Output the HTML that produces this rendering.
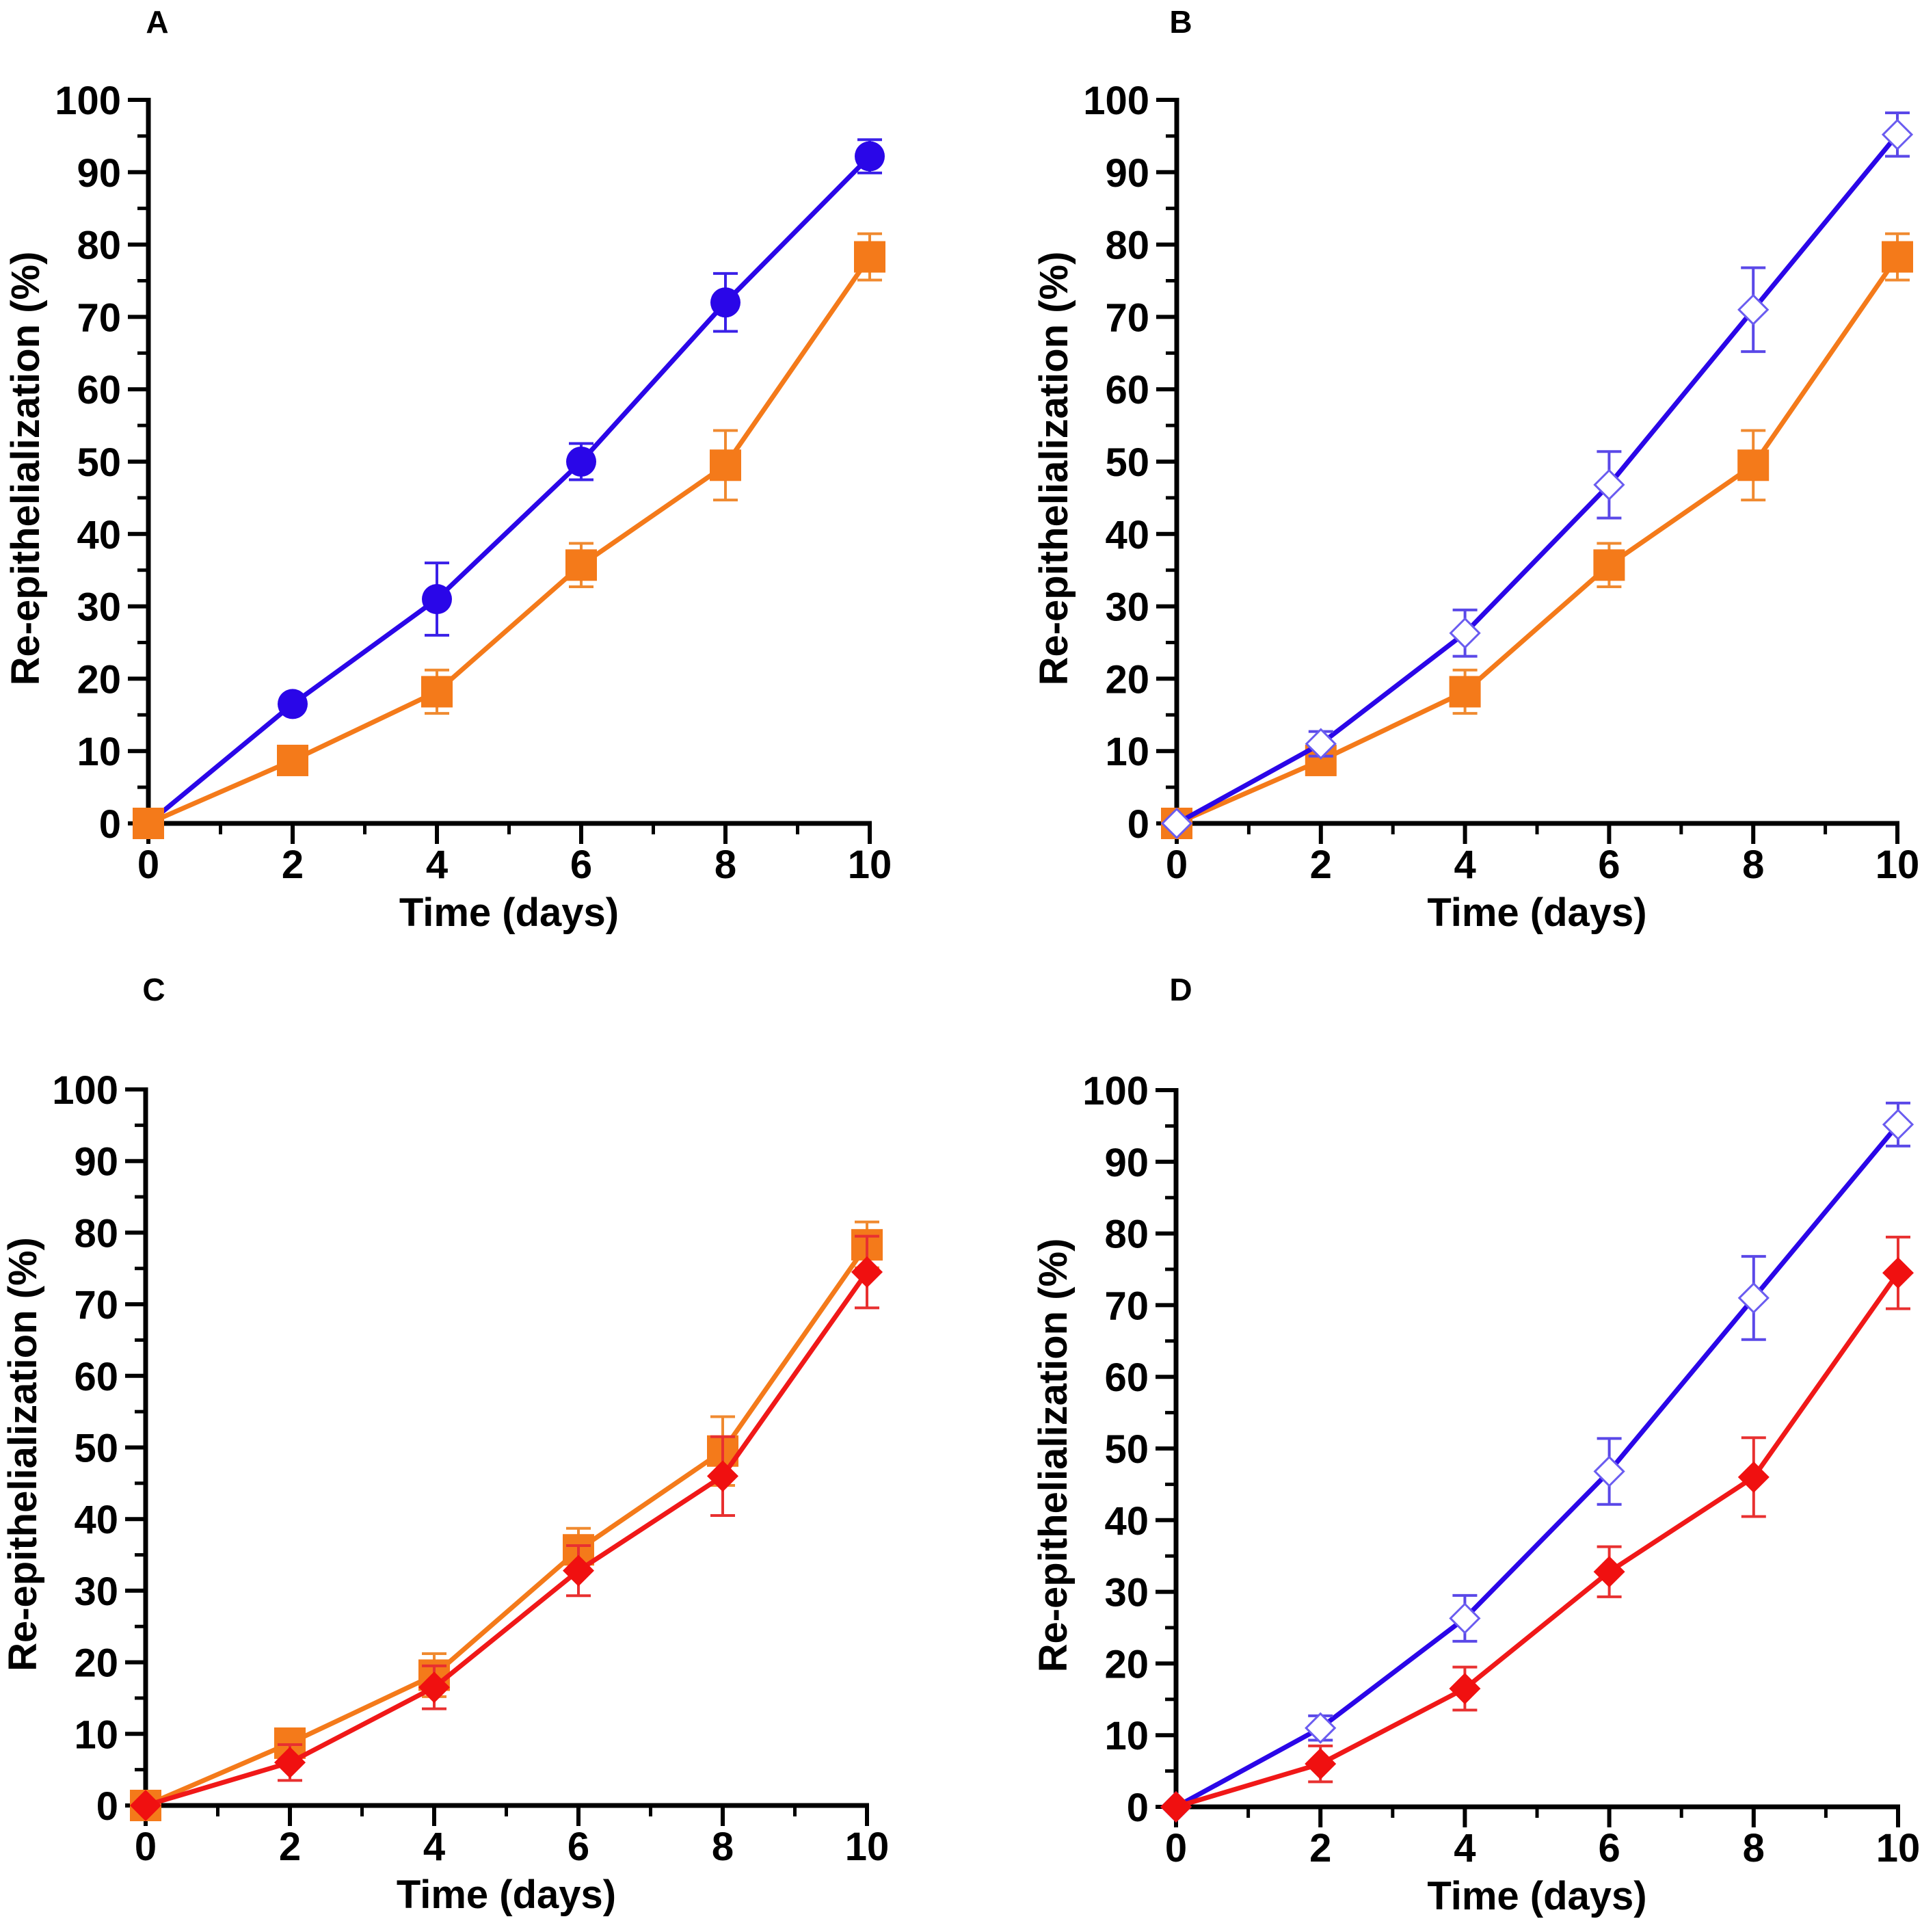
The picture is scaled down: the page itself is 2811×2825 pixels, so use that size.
<!DOCTYPE html>
<html><head><meta charset="utf-8">
<style>
html,body{margin:0;padding:0;background:#fff;}
svg{display:block;}
text{font-family:"Liberation Sans",Arial,sans-serif;font-weight:bold;fill:#000;}
</style></head>
<body>
<svg id="fig" width="2811" height="2825" viewBox="0 0 2811 2825" xmlns="http://www.w3.org/2000/svg"></svg>
<script>
const days = [0, 2, 4, 6, 8, 10];
const xTicks = [0, 2, 4, 6, 8, 10];
const yTicks = [0, 10, 20, 30, 40, 50, 60, 70, 80, 90, 100];
const blueCircleVals = [0, 16.5, 31, 50, 72, 92.2];
const blueCircleErr = [0, 1, 5, 2.5, 4, 2.3];
const orangeSquareVals = [0, 8.7, 18.2, 35.7, 49.5, 78.3];
const orangeSquareErr = [0, 1, 3, 3, 4.8, 3.2];
const openDiamondVals = [0, 11, 26.3, 46.8, 71, 95.2];
const openDiamondErr = [0, 1.7, 3.2, 4.6, 5.8, 3];
const redDiamondVals = [0, 6, 16.5, 32.8, 46, 74.5];
const redDiamondErr = [0, 2.5, 3, 3.5, 5.5, 5];

const NS = "http://www.w3.org/2000/svg";
const svg = document.getElementById('fig');
function mk(tag, attrs, parent) {
  const e = document.createElementNS(NS, tag);
  for (const k in attrs) e.setAttribute(k, attrs[k]);
  (parent || svg).appendChild(e);
  return e;
}

const panels = [
  {id:'a', letter:'A', lx:230, ly:48, x0:217, x1:1272, y0:1204, y1:146, series:['blue','orange']},
  {id:'b', letter:'B', lx:1727, ly:48, x0:1721, x1:2775, y0:1204, y1:146, series:['orange','open']},
  {id:'c', letter:'C', lx:225, ly:1463, x0:213, x1:1268, y0:2640, y1:1593, series:['orange','red']},
  {id:'d', letter:'D', lx:1727, ly:1463, x0:1720, x1:2776, y0:2642, y1:1594, series:['open','red']}
];

const seriesDef = {
  blue: {vals: blueCircleVals, err: blueCircleErr, line:'#2a06e8', errc:'#3a20e8', marker:'circle'},
  orange: {vals: orangeSquareVals, err: orangeSquareErr, line:'#f47a1a', errc:'#f08a30', marker:'square'},
  open: {vals: openDiamondVals, err: openDiamondErr, line:'#2a06e8', errc:'#5a48e8', marker:'open'},
  red: {vals: redDiamondVals, err: redDiamondErr, line:'#f01818', errc:'#e83030', marker:'diamond'}
};

panels.forEach(p => {
  const g = mk('g', {});
  
  
  const X = d => p.x0 + (p.x1 - p.x0) * d / 10;
  const Y = v => p.y0 - (p.y0 - p.y1) * v / 100;

  const lt = mk('text', {x:p.lx, y:p.ly, 'font-size':46, 'text-anchor':'middle'}, g);
  lt.textContent = p.letter;
  
  

  const ax = mk('g', {}, g);
  
  
  mk('line', {x1:p.x0, y1:p.y1 - 3, x2:p.x0, y2:p.y0 + 3, stroke:'#000', 'stroke-width':7}, ax);
  mk('line', {x1:p.x0 - 3, y1:p.y0, x2:p.x1 + 3, y2:p.y0, stroke:'#000', 'stroke-width':7}, ax);
  for (let v = 0; v <= 100; v += 5) {
    const major = v % 10 === 0;
    mk('line', {x1:p.x0, y1:Y(v), x2:p.x0 - (major ? 30 : 16), y2:Y(v), stroke:'#000', 'stroke-width':major ? 6 : 5}, ax);
  }
  for (let d = 0; d <= 10; d += 1) {
    const major = d % 2 === 0;
    mk('line', {x1:X(d), y1:p.y0, x2:X(d), y2:p.y0 + (major ? 30 : 16), stroke:'#000', 'stroke-width':major ? 6 : 5}, ax);
  }
  yTicks.forEach(v => {
    const t = mk('text', {x:p.x0 - 40, y:Y(v) + 21, 'font-size':58, 'text-anchor':'end'}, ax);
    t.textContent = v;
    
    
  });
  xTicks.forEach(d => {
    const t = mk('text', {x:X(d), y:p.y0 + 80, 'font-size':58, 'text-anchor':'middle'}, ax);
    t.textContent = d;
    
    
  });
  const xt = mk('text', {x:(p.x0 + p.x1) / 2, y:p.y0 + 150, 'font-size':58, 'text-anchor':'middle'}, g);
  xt.textContent = 'Time (days)';
  
  
  const yc = (p.y0 + p.y1) / 2 + 10;
  const yt = mk('text', {x:0, y:0, 'font-size':58, 'text-anchor':'middle', transform:`translate(${p.x0 - 160},${yc}) rotate(-90)`}, g);
  yt.textContent = 'Re-epithelialization (%)';
  
  

  p.series.forEach(key => {
    const s = seriesDef[key];
    const sg = mk('g', {}, g);
    
    
    const pts = days.map((d, i) => X(d) + ',' + Y(s.vals[i])).join(' ');
    const pl = mk('polyline', {points:pts, fill:'none', stroke:s.line, 'stroke-width':7, 'stroke-linejoin':'round'}, sg);
    
    
    days.forEach((d, i) => {
      const cx = X(d), cy = Y(s.vals[i]);
      if (s.err[i] > 0) {
        const top = Y(s.vals[i] + s.err[i]), bot = Y(s.vals[i] - s.err[i]);
        const eb = mk('path', {d:`M${cx},${top}V${bot}M${cx-18},${top}H${cx+18}M${cx-18},${bot}H${cx+18}`, stroke:s.errc, 'stroke-width':4, fill:'none'}, sg);
        
        
      }
      let m;
      if (s.marker === 'circle') m = mk('circle', {cx:cx, cy:cy, r:22, fill:'#2a06e8'}, sg);
      else if (s.marker === 'square') m = mk('rect', {x:cx - 23, y:cy - 23, width:46, height:46, fill:'#f47a1a'}, sg);
      else if (s.marker === 'diamond') m = mk('path', {d:`M${cx},${cy-23}L${cx+23},${cy}L${cx},${cy+23}L${cx-23},${cy}Z`, fill:'#f01010'}, sg);
      else m = mk('path', {d:`M${cx},${cy-21}L${cx+21},${cy}L${cx},${cy+21}L${cx-21},${cy}Z`, fill:'#fff', stroke:'#6a5cf0', 'stroke-width':3}, sg);
      
      
    });
  });
});
</script>
</body></html>
